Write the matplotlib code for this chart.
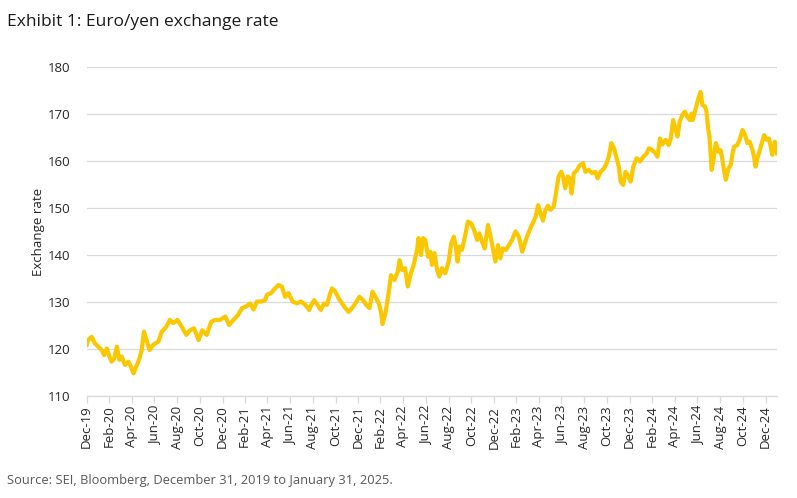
import numpy as np
import pandas as pd
import matplotlib
matplotlib.use("Agg")
import matplotlib.pyplot as plt

# days since 31 Dec 2019 and EUR/JPY level
days = [0, 4, 13, 22, 31, 40, 47, 54, 61, 67, 74, 81, 88, 94, 103, 112, 119, 126, 133,
        142, 148, 154, 162, 169, 179, 193, 202, 214, 224, 233, 244, 256, 268, 278, 289,
        301, 311, 323, 335, 346, 359, 373, 383, 395, 407, 418, 428, 440, 449, 458, 470,
        480, 485, 496, 507, 516, 525, 534, 543, 554, 566, 577, 588, 599, 602, 612, 621,
        630, 639, 647, 654, 660, 669, 678, 687, 696, 705, 714, 723, 734, 744, 752, 761,
        769, 777, 786, 792, 796, 804, 813, 819, 828, 837, 842, 849, 857, 864, 871, 880,
        889, 893, 900, 905, 911, 919, 925, 929, 936, 943, 949, 956, 965, 974, 981, 988,
        994, 998, 1003, 1010, 1019, 1026, 1035, 1044, 1051, 1057, 1064, 1071, 1080, 1087,
        1093, 1100, 1107, 1113, 1120, 1129, 1136, 1145, 1154, 1163, 1172, 1179, 1185, 1194,
        1200, 1208, 1215, 1221, 1228, 1234, 1241, 1248, 1257, 1264, 1270, 1277, 1282, 1288,
        1295, 1300, 1305, 1311, 1320, 1327, 1336, 1342, 1351, 1360, 1369, 1375, 1383, 1392,
        1399, 1405, 1412, 1419, 1426, 1432, 1437, 1444, 1450, 1456, 1464, 1471, 1480, 1489,
        1498, 1507, 1513, 1522, 1531, 1536, 1543, 1549, 1558, 1566, 1572, 1578, 1583, 1590,
        1596, 1603, 1610, 1616, 1623, 1628, 1631, 1639, 1646, 1652, 1657, 1664, 1668, 1673,
        1676, 1682, 1688, 1693, 1700, 1706, 1711, 1715, 1720, 1727, 1733, 1738, 1742, 1751,
        1757, 1765, 1772, 1778, 1784, 1792, 1796, 1800, 1805, 1814, 1823, 1830, 1836, 1841,
        1845, 1852, 1855, 1858]
rate = [120.9, 121.9, 122.6, 121.2, 120.5, 119.8, 118.7, 120.1, 118.4, 117.3, 118.0, 120.5,
        117.7, 118.4, 116.6, 117.3, 116.2, 114.8, 116.2, 118.0, 119.8, 123.7, 121.6, 119.8,
        120.9, 121.6, 123.7, 124.7, 126.2, 125.5, 126.2, 124.7, 123.0, 124.0, 124.4,
        121.9, 124.0, 123.0, 125.8, 126.2, 126.2, 126.9, 125.1, 126.2, 127.2, 128.7, 129.0,
        129.7, 128.4, 130.1, 130.1, 130.4, 131.5, 131.9, 132.9, 133.6, 133.3, 131.1, 131.9,
        130.1, 129.7, 130.1, 129.4, 128.3, 129.0, 130.4, 129.4, 128.3, 129.7, 129.4, 131.5,
        132.9, 132.2, 130.8, 129.7, 128.7, 127.9, 128.7, 129.7, 131.1, 130.4, 129.4, 128.7,
        132.2, 131.1, 129.7, 127.9, 125.3, 127.6, 132.2, 135.7, 134.7, 136.4, 138.9, 136.8,
        137.2, 133.3, 135.7, 137.9, 141.1, 143.6, 140.0, 143.6, 143.2, 139.6, 140.7, 137.9,
        140.4, 136.8, 135.4, 137.2, 136.1, 138.6, 142.5, 143.9, 141.4, 138.6, 141.8, 141.1,
        144.3, 147.1, 146.7, 145.0, 143.2, 144.6, 142.8, 141.4, 146.4, 143.9, 141.4, 138.6,
        142.1, 139.3, 141.4, 141.1, 142.1, 143.2, 145.0, 143.9, 140.7, 142.5, 143.9, 145.7,
        146.7, 148.1, 150.6, 148.9, 147.3, 149.4, 150.5, 149.6, 150.3, 153.8, 156.7, 157.7,
        156.7, 154.2, 156.7, 156.3, 153.1, 157.4, 158.1, 159.1, 159.5, 157.7, 158.1, 157.4,
        157.7, 156.3, 157.7, 158.4, 159.5, 160.9, 163.8, 162.7, 160.6, 158.8, 155.6, 154.9,
        157.7, 157.0, 155.6, 158.8, 160.6, 159.9, 160.9, 161.6, 162.7, 162.3, 161.6, 160.9,
        164.8, 163.5, 164.5, 163.4, 164.8, 168.7, 167.3, 165.2, 168.4, 169.8, 170.5, 169.4,
        168.7, 170.1, 168.7, 171.2, 173.3, 174.7, 171.9, 171.6, 170.5, 166.6, 165.2, 158.1,
        160.9, 163.8, 162.0, 162.3, 160.2, 158.1, 156.0, 158.4, 159.1, 161.6, 163.0, 163.4,
        164.5, 166.6, 165.5, 163.8, 164.1, 162.3, 160.9, 158.8, 160.6, 163.0, 165.5, 164.5,
        164.8, 163.0, 161.3, 164.1, 163.4, 161.6]

start = pd.Timestamp("2019-12-31")
dates = start + pd.to_timedelta(days, unit="D")

# tick every two months, at month end, Dec-19 .. Dec-24
tick_dates = [pd.Timestamp("2020-01-01") + pd.DateOffset(months=2 * i) - pd.Timedelta(days=1)
              for i in range(31)]
tick_labels = [d.strftime("%b-%y") for d in tick_dates]
y_ticks = [110, 120, 130, 140, 150, 160, 170, 180]

plt.rcParams["font.family"] = ["Open Sans", "DejaVu Sans"]

fig = plt.figure(figsize=(7.97, 4.98), dpi=100)
ax = fig.add_axes([0.1088, 0.2048, 0.8662, 0.6607])

ax.plot(dates, rate, color="#FAC700", linewidth=3.0, solid_joinstyle="round")

ax.set_ylim(110, 180)
ax.set_yticks(y_ticks)
ax.set_xlim(start, pd.Timestamp("2025-01-31"))
ax.set_xticks(tick_dates)
ax.set_xticklabels(tick_labels, rotation=90)

ax.grid(axis="y", color="#d9d9d9", linewidth=0.9)
ax.set_axisbelow(True)
for s in ["top", "right", "left"]:
    ax.spines[s].set_visible(False)
ax.spines["bottom"].set_color("#d9d9d9")
ax.spines["bottom"].set_linewidth(0.9)

ax.tick_params(axis="x", colors="#d9d9d9", labelcolor="#262626", labelsize=9.5,
               length=5, width=0.9, pad=2)
ax.tick_params(axis="y", length=0, labelcolor="#262626", labelsize=9.5, pad=12)
ax.set_ylabel("Exchange rate", fontsize=9.5, color="#262626", labelpad=2)

fig.text(0.009, 0.955, "Exhibit 1: Euro/yen exchange rate", fontsize=12.5,
         color="#1a1a1a", va="center")
fig.text(0.009, 0.036, "Source: SEI, Bloomberg, December 31, 2019 to January 31, 2025.",
         fontsize=9.3, color="#595959", va="center")

fig.savefig("out.png", dpi=100)
